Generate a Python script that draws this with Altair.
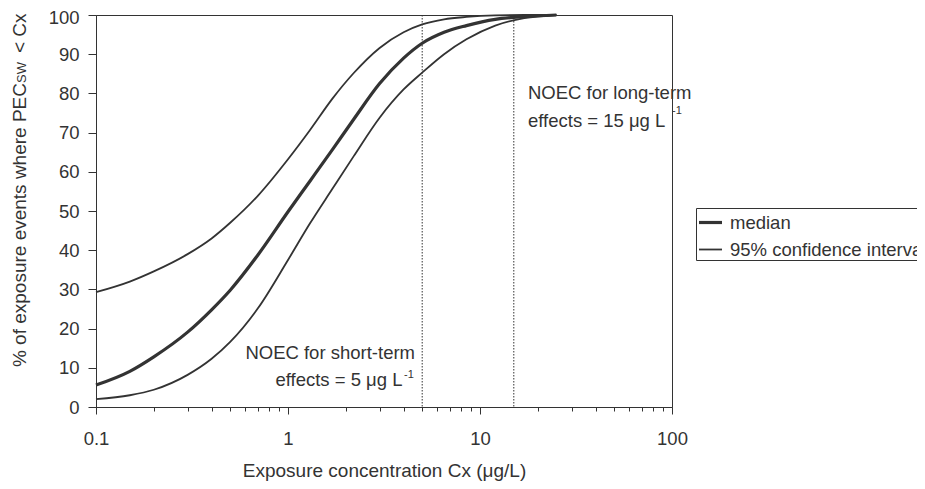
import altair as alt
import pandas as pd

# ---- data ----
conc = [0.1, 0.15, 0.2, 0.3, 0.4, 0.5, 0.7, 1, 1.3, 1.7, 2.2, 3, 4, 5, 6.5, 8.5, 12, 17, 25]
median = [5.6, 9.1, 12.8, 19.1, 24.8, 29.8, 38.9, 49.8, 57.6, 65.6, 73.4, 82.5, 89.0, 92.8, 95.6, 97.3, 98.9, 99.6, 100]
upper = [29.3, 32.0, 34.6, 39.0, 43.0, 47.0, 54.0, 63.2, 70.6, 78.6, 85.2, 91.6, 95.6, 97.6, 98.9, 99.5, 99.9, 100, 100]
lower = [2.0, 3.0, 4.4, 8.2, 12.3, 16.6, 25.3, 37.5, 46.8, 55.6, 64.0, 73.8, 81.0, 85.3, 90.0, 93.8, 97.3, 99.2, 100]
noec = [5, 15]
kinds = ["median", "95% confidence interval"]
y_ticks = list(range(0, 101, 10))
x_ticks = [round(m * 10 ** e, 6) for e in range(-1, 2) for m in range(1, 10)] + [100]

rows = []
for name, kind, vals in [("median", kinds[0], median), ("upper", kinds[1], upper), ("lower", kinds[1], lower)]:
    for c, v in zip(conc, vals):
        rows.append({"conc": c, "pct": v, "curve": name, "kind": kind})
df = pd.DataFrame(rows)

INK = "#333333"
FONT = "Liberation Sans"

decade_test = "abs(log(datum.value)/LN10 - round(log(datum.value)/LN10)) < 0.001"

x_enc = alt.X(
    "conc:Q",
    scale=alt.Scale(type="log", domain=[0.1, 100], nice=False),
    axis=alt.Axis(
        values=x_ticks,
        labelExpr=f"({decade_test}) ? format(datum.value, '~g') : ''",
        tickSize={"condition": {"test": decade_test, "value": 7}, "value": 4},
        labelPadding=15,
        labelFlush=False,
        labelOverlap=False,
        title="Exposure concentration Cx (μg/L)",
        titleY=69,
        titleBaseline="alphabetic",
        grid=False,
    ),
)
y_enc = alt.Y(
    "pct:Q",
    scale=alt.Scale(domain=[0, 100], nice=False),
    axis=alt.Axis(
        values=y_ticks, tickSize=8, labelPadding=9, title="", grid=False,
        labelOffset={"condition": {"test": "datum.value == 100", "value": 2}, "value": 0},
    ),
)

curves = alt.Chart(df).mark_line(color=INK, interpolate="monotone").encode(
    x=x_enc,
    y=y_enc,
    detail="curve:N",
    strokeWidth=alt.StrokeWidth(
        "kind:N",
        scale=alt.Scale(domain=kinds, range=[3.2, 1.8]),
        title=None,
        legend=alt.Legend(
            orient="none",
            legendX=600,
            legendY=193,
            symbolType="stroke",
            symbolSize=529,
            symbolStrokeColor=INK,
            labelFontSize=18.5,
            labelFont=FONT,
            labelColor=INK,
            labelOffset=6,
            rowPadding=5,
            padding=1,
            strokeColor=INK,
            fillColor="white",
            labelLimit=400,
        ),
    ),
)

rules = alt.Chart(pd.DataFrame({"c": noec})).mark_rule(
    color=INK, strokeWidth=1, strokeDash=[1.5, 1.5]
).encode(x="c:Q")


def txt(text, x, y, size=18.5, align="left", angle=0, baseline="middle"):
    return alt.Chart(pd.DataFrame({"a": [0]})).mark_text(
        text=text, align=align, baseline=baseline, fontSize=size, font=FONT,
        color=INK, angle=angle,
    ).encode(x=alt.value(x), y=alt.value(y))


annots = [
    txt("NOEC for short-term", 319, 338, align="right"),
    txt("effects = 5 μg L", 306.5, 365, align="right"),
    txt("-1", 308, 360, size=11),
    txt("NOEC for long-term", 432, 77.5),
    txt("effects = 15 μg L", 432, 105.5),
    txt("-1", 576, 96, size=11),
    # rotated y title in pieces (subscript SW)
    txt("% of exposure events where PEC", -70, 68, size=19, align="right", angle=270, baseline="alphabetic"),
    txt("SW", -70, 68, size=13, align="left", angle=270, baseline="alphabetic"),
    txt("< Cx", -70, 38, size=19, align="left", angle=270, baseline="alphabetic"),
]

chart = alt.layer(curves, rules, *annots).properties(
    width=576,
    height=392,
    autosize=alt.AutoSizeParams(type="none"),
    padding={"left": 88, "top": 7, "right": 245, "bottom": 74},
).configure_view(stroke=INK, strokeWidth=1).configure_axis(
    domainColor=INK,
    tickColor=INK,
    labelColor=INK,
    titleColor=INK,
    labelFont=FONT,
    titleFont=FONT,
    labelFontSize=18.5,
    titleFontSize=19,
    titleFontWeight="normal",
    domainWidth=1,
    tickWidth=1,
)

chart.save("out.html", embed_options={"renderer": "svg", "actions": False})
